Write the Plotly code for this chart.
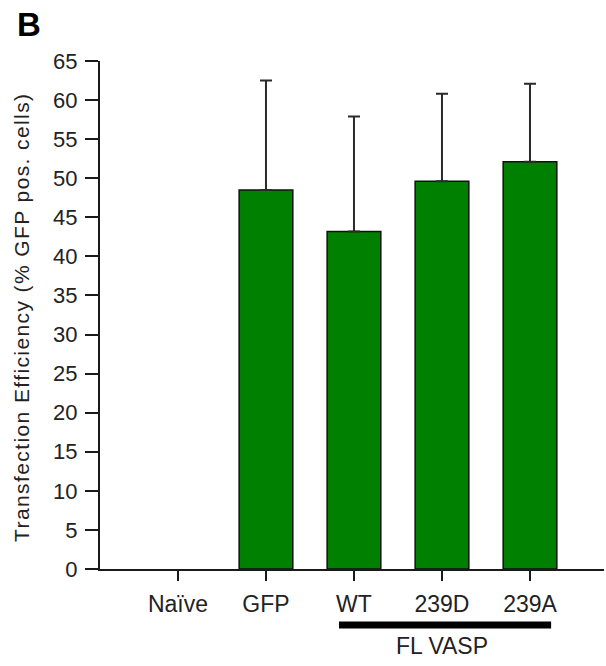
import plotly.graph_objects as go

categories = ["Naïve", "GFP", "WT", "239D", "239A"]
values = [0.0, 48.5, 43.2, 49.6, 52.1]
errors_plus = [0.0, 14.0, 14.7, 11.2, 10.0]
y_ticks = list(range(0, 70, 5))
group_label = "FL VASP"
y_title = "Transfection Efficiency (% GFP pos. cells)"
panel_label = "B"

FONT = "Arial, Liberation Sans, sans-serif"

x_idx = list(range(len(categories)))
# a zero-height bar draws nothing in the reference (no outline, no error cap)
y_plot = [None if v == 0 else v for v in values]

fig = go.Figure()
fig.add_trace(go.Bar(
    x=x_idx, y=y_plot,
    width=0.61,
    marker=dict(color="#008000", line=dict(color="#111111", width=1.5)),
    error_y=dict(type="data", symmetric=False, array=errors_plus,
                 arrayminus=[0] * len(errors_plus),
                 color="#2a2a2a", thickness=2, width=6, visible=True),
    showlegend=False,
))

fig.update_layout(
    width=606, height=666,
    margin=dict(l=100, r=2, t=61, b=97),
    plot_bgcolor="white", paper_bgcolor="white",
    font=dict(family=FONT, size=20, color="#222222"),
)

fig.update_xaxes(
    range=[-0.886, 4.841],
    tickmode="array", tickvals=x_idx, ticktext=categories,
    showline=True, linecolor="#1a1a1a", linewidth=2,
    ticks="outside", ticklen=10, tickwidth=2, tickcolor="#1a1a1a",
    tickfont=dict(size=23, family=FONT, color="#222222"),
    ticklabelstandoff=3,
    showgrid=False, zeroline=False, fixedrange=True,
)
fig.update_yaxes(
    range=[0, 65],
    tickmode="array", tickvals=y_ticks,
    showline=True, linecolor="#1a1a1a", linewidth=2,
    ticks="outside", ticklen=13, tickwidth=2, tickcolor="#1a1a1a",
    tickfont=dict(size=22, family=FONT, color="#222222"),
    ticklabelstandoff=3,
    showgrid=False, zeroline=False, fixedrange=True,
)

# group bracket under WT..239A
fig.add_shape(type="line", xref="x", yref="paper",
              x0=1.83, x1=4.24, y0=-0.110, y1=-0.110,
              line=dict(color="black", width=7))
fig.add_annotation(text=group_label, xref="x", yref="paper", x=3.0, y=-0.152,
                   showarrow=False, xanchor="center", yanchor="middle",
                   font=dict(size=23, family=FONT, color="#222222"))

# y-axis title
fig.add_annotation(text='<span style="letter-spacing:1.4px">' + y_title + '</span>',
                   xref="paper", yref="paper", x=-0.157, y=0.496,
                   textangle=-90, showarrow=False, xanchor="center", yanchor="middle",
                   font=dict(size=21, family=FONT, color="#222222"))

# panel label
fig.add_annotation(text="<b>" + panel_label + "</b>", xref="paper", yref="paper",
                   x=-0.141, y=1.071, showarrow=False, xanchor="center", yanchor="middle",
                   font=dict(size=33, family=FONT, color="black"))

fig.write_html("out.html")
